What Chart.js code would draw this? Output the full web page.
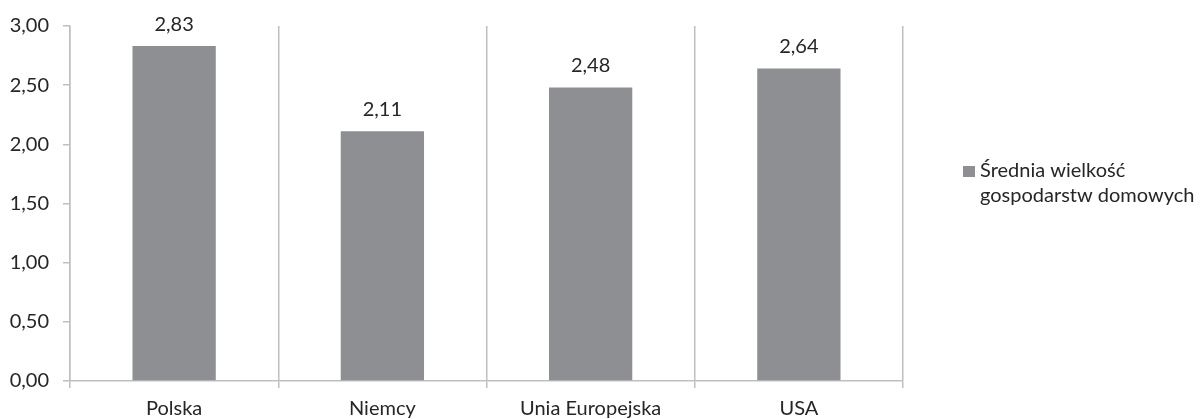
<!DOCTYPE html>
<html lang="pl">
<head>
<meta charset="utf-8">
<script src="https://cdn.jsdelivr.net/npm/chart.js@4/dist/chart.umd.min.js"></script>
<style>
  html, body { margin: 0; padding: 0; background: #fff; }
  #wrap { width: 1200px; height: 419px; position: relative; }
</style>
</head>
<body>
<div id="wrap"><canvas id="chart"></canvas></div>
<script>
// Średnia wielkość gospodarstw domowych (osoby)
const countries = ["Polska", "Niemcy", "Unia Europejska", "USA"];
const householdSize = [2.83, 2.11, 2.48, 2.64];
const seriesLabel = ["Średnia wielkość", "gospodarstw domowych"];
const yTicks = [0, 0.5, 1, 1.5, 2, 2.5, 3];

const BAR_COLOR = "#8e8f93";
const GRID_COLOR = "#bfbfbf";
const TEXT_COLOR = "#262626";
const FONT = '"Lato", "Open Sans", sans-serif';

const fmt = v => v.toFixed(2).replace(".", ",");

// value labels above bars
const valueLabels = {
  id: "valueLabels",
  afterDatasetsDraw(chart) {
    const { ctx } = chart;
    const meta = chart.getDatasetMeta(0);
    ctx.save();
    ctx.font = `20px ${FONT}`;
    ctx.fillStyle = TEXT_COLOR;
    ctx.textAlign = "center";
    ctx.textBaseline = "middle";
    meta.data.forEach((bar, i) => {
      ctx.fillText(fmt(householdSize[i]), bar.x, bar.y - 22);
    });
    ctx.restore();
  },
};

// legend on the right, wrapped to two lines
const sideLegend = {
  id: "sideLegend",
  afterDraw(chart) {
    const { ctx, chartArea } = chart;
    const x = chartArea.right + 60;
    const y = 166;
    ctx.save();
    ctx.fillStyle = BAR_COLOR;
    ctx.fillRect(x, y, 12, 11);
    ctx.font = `20px ${FONT}`;
    ctx.fillStyle = TEXT_COLOR;
    ctx.textAlign = "left";
    ctx.textBaseline = "middle";
    seriesLabel.forEach((line, i) => ctx.fillText(line, x + 17, y + 5 + i * 25));
    ctx.restore();
  },
};

new Chart(document.getElementById("chart"), {
  type: "bar",
  data: {
    labels: countries,
    datasets: [{
      label: seriesLabel.join(" "),
      data: householdSize,
      backgroundColor: BAR_COLOR,
      barPercentage: 0.4,
      categoryPercentage: 1,
    }],
  },
  options: {
    responsive: true,
    maintainAspectRatio: false,
    animation: false,
    layout: { padding: { top: 24, right: 297, left: 0, bottom: 0 } },
    plugins: {
      legend: { display: false },
      tooltip: { enabled: false },
    },
    scales: {
      x: {
        offset: true,
        grid: {
          offset: true,
          color: GRID_COLOR,
          lineWidth: 1.5,
          tickLength: 7,
        },
        border: { color: GRID_COLOR, width: 1.5 },
        ticks: { color: TEXT_COLOR, font: { family: FONT, size: 20 }, padding: 9 },
        afterFit: s => { s.height = 38; },
      },
      y: {
        min: 0,
        max: 3,
        afterBuildTicks: s => { s.ticks = yTicks.map(v => ({ value: v })); },
        grid: {
          drawOnChartArea: false,
          color: GRID_COLOR,
          lineWidth: 1.5,
          tickLength: 7,
        },
        border: { color: GRID_COLOR, width: 1.5 },
        ticks: {
          color: TEXT_COLOR,
          font: { family: FONT, size: 20 },
          padding: 14,
          callback: v => fmt(v),
        },
        afterFit: s => { s.width = 70; },
      },
    },
  },
  plugins: [valueLabels, sideLegend],
});
</script>
</body>
</html>
